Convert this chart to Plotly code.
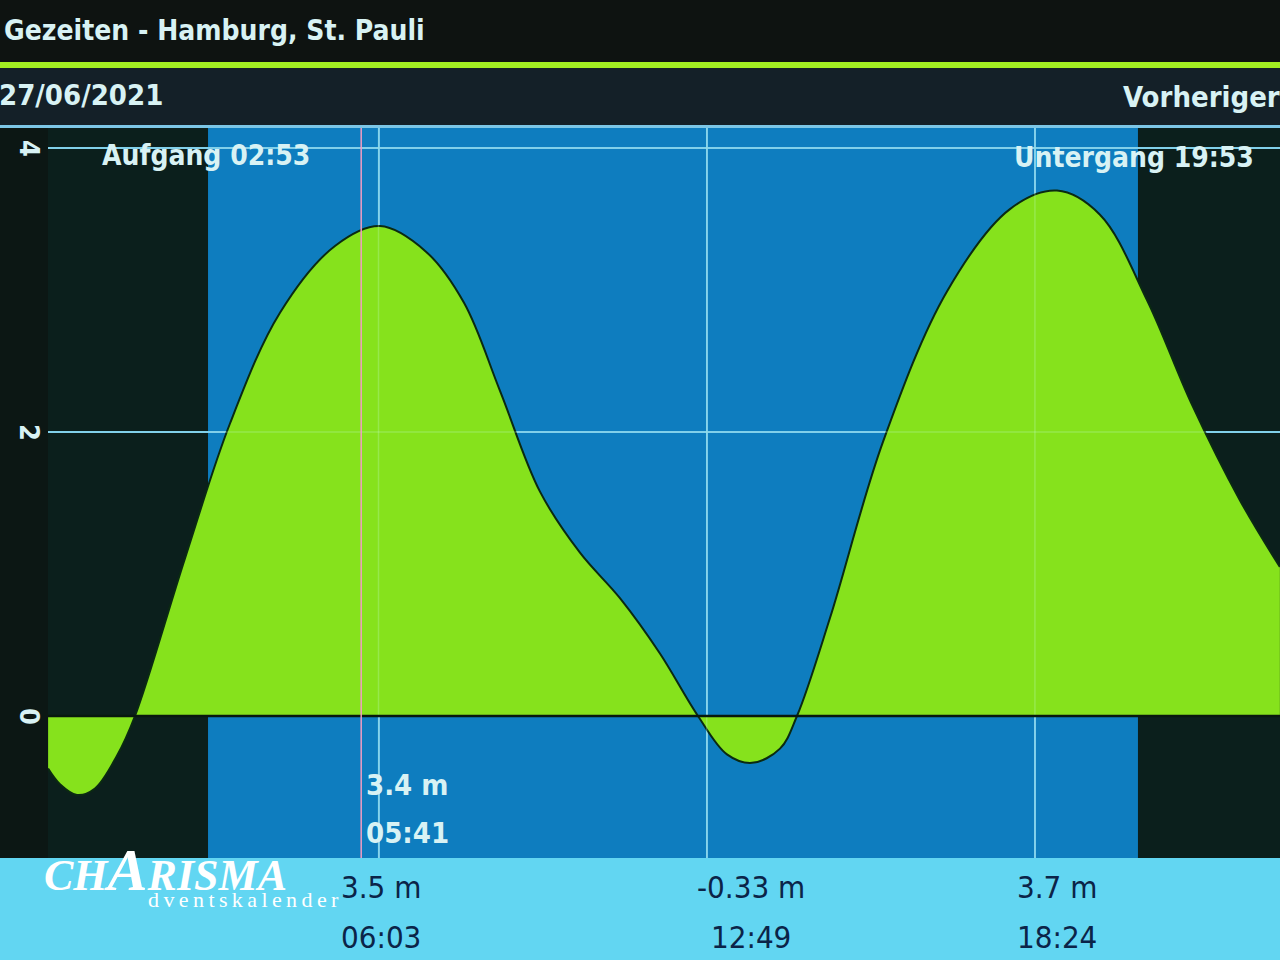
import plotly.graph_objects as go

# ---- data: hours after midnight, water level in m ----
hours = [-0.04, 0.177, 0.488, 0.817, 1.219, 1.548, 2.462, 3.285, 4.199, 5.204, 6.027,
         6.868, 7.563, 8.221, 8.952, 9.683, 10.414, 11.145, 11.840, 12.370, 12.827,
         13.339, 13.650, 14.253, 15.222, 16.392, 17.543, 18.403, 19.189, 20.048,
         20.862, 21.747, 22.478]
levels = [-0.37, -0.48, -0.556, -0.51, -0.28, 0.00, 1.11, 2.06, 2.84, 3.31, 3.45,
          3.27, 2.91, 2.29, 1.58, 1.15, 0.83, 0.44, 0.00, -0.27, -0.33,
          -0.23, 0.00, 0.69, 1.93, 2.99, 3.57, 3.70, 3.53, 2.93,
          2.20, 1.52, 1.05]

sunrise_h = 2 + 53 / 60
sunset_h = 19 + 53 / 60
cursor_h = 5 + 41 / 60
cursor_label = ["3.4 m", "05:41"]

tide_hours = [6 + 3 / 60, 12 + 49 / 60, 18 + 24 / 60]
tide_heights = ["3.5 m", "-0.33 m", "3.7 m"]
tide_times = ["06:03", "12:49", "18:24"]

y_ticks = [0, 2, 4]
x_grid = [6, 12, 18]

title = "Gezeiten - Hamburg, St. Pauli"
date_text = "27/06/2021"
prev_text = "Vorheriger"
sunrise_text = "Aufgang 02:53"
sunset_text = "Untergang 19:53"

# ---- geometry helpers (pixel -> paper) ----
W, H = 1280, 960
L, R, T, B = 48, 0, 128, 102
PW, PH = W - L - R, H - T - B


def px(x):
    return (x - L) / PW


def py(y):
    return (H - B - y) / PH


FONT = "DejaVu Sans Condensed, Liberation Sans Narrow, DejaVu Sans, sans-serif"
LIGHT = "#d8f2f4"

fig = go.Figure()

fig.add_trace(go.Scatter(
    x=hours, y=levels, mode="lines",
    line=dict(color="#0b2a12", width=2, shape="spline", smoothing=1.0),
    fill="tozeroy", fillcolor="#86e21c",
    hoverinfo="skip", showlegend=False,
))

shapes = []
# header bars
shapes.append(dict(type="rect", xref="paper", yref="paper", x0=px(0), x1=px(W), y0=py(0), y1=py(62),
                   fillcolor="#0e1311", line_width=0, layer="below"))
shapes.append(dict(type="rect", xref="paper", yref="paper", x0=px(0), x1=px(W), y0=py(62), y1=py(68),
                   fillcolor="#a2ee22", line_width=0, layer="below"))
shapes.append(dict(type="rect", xref="paper", yref="paper", x0=px(0), x1=px(W), y0=py(68), y1=py(125),
                   fillcolor="#142028", line_width=0, layer="below"))
shapes.append(dict(type="rect", xref="paper", yref="paper", x0=px(0), x1=px(W), y0=py(125), y1=py(128),
                   fillcolor="#7cc6e6", line_width=0, layer="below"))
# bottom band
shapes.append(dict(type="rect", xref="paper", yref="paper", x0=px(0), x1=px(W), y0=py(H), y1=py(H - B),
                   fillcolor="#62d6f2", line_width=0, layer="below"))
# daylight
shapes.append(dict(type="rect", xref="x", yref="y domain", x0=sunrise_h, x1=sunset_h, y0=0, y1=1,
                   fillcolor="#0e7dbf", line_width=0, layer="below"))
# faint grid over the fill
for g in x_grid:
    shapes.append(dict(type="line", xref="x", yref="y domain", x0=g, x1=g, y0=0, y1=1,
                       line=dict(color="rgba(200,255,220,0.25)", width=1.5), layer="above"))
for g in [2, 4]:
    shapes.append(dict(type="line", xref="paper", yref="y", x0=0, x1=1, y0=g, y1=g,
                       line=dict(color="rgba(200,255,220,0.25)", width=1.5), layer="above"))
# zero line
shapes.append(dict(type="line", xref="paper", yref="y", x0=0, x1=1, y0=0, y1=0,
                   line=dict(color="#08180e", width=2.5), layer="above"))
# cursor
shapes.append(dict(type="line", xref="x", yref="y domain", x0=cursor_h, x1=cursor_h, y0=0, y1=1,
                   line=dict(color="#f29cc2", width=1.5), layer="above"))

annotations = []


def txt(s, x, y, size, color=LIGHT, xanchor="left", bold=True, family=FONT):
    annotations.append(dict(
        text=("<b>%s</b>" % s) if bold else s, x=px(x), y=py(y), xref="paper", yref="paper",
        xanchor=xanchor, yanchor="middle", showarrow=False,
        font=dict(family=family, size=size, color=color)))


txt(title, 2, 30, 28)
txt(date_text, -3, 95, 29)
txt(prev_text, 1282, 97, 29, xanchor="right")
txt(sunrise_text, 100, 155, 28)
txt(sunset_text, 1256, 157, 28, xanchor="right")
txt(cursor_label[0], 364, 785, 29)
txt(cursor_label[1], 364, 833, 29)

for v in y_ticks:
    annotations.append(dict(text="<b>%d</b>" % v, x=px(30), y=v, xref="paper", yref="y",
                            xanchor="center", yanchor="middle", showarrow=False, textangle=90,
                            font=dict(family=FONT, size=27, color=LIGHT)))

for h, lv, tm in zip(tide_hours, tide_heights, tide_times):
    annotations.append(dict(text=lv, x=h, y=py(887), xref="x", yref="paper", xanchor="center",
                            yanchor="middle", showarrow=False,
                            font=dict(family=FONT, size=31, color="#0b2448")))
    annotations.append(dict(text=tm, x=h, y=py(937), xref="x", yref="paper", xanchor="center",
                            yanchor="middle", showarrow=False,
                            font=dict(family=FONT, size=31, color="#0b2448")))

# watermark
annotations.append(dict(text="CH<span style='font-size:60px'>A</span>RISMA", x=px(42), y=py(870),
                        xref="paper", yref="paper", xanchor="left", yanchor="middle", showarrow=False,
                        font=dict(family="Liberation Serif, DejaVu Serif, serif", size=44, color="white",
                                  style="italic", weight="bold")))
annotations.append(dict(text="\u2009".join("dventskalender"), x=px(146), y=py(899),
                        xref="paper", yref="paper", xanchor="left", yanchor="middle", showarrow=False,
                        font=dict(family="Liberation Serif, DejaVu Serif, serif", size=22, color="white")))

fig.update_layout(
    width=W, height=H, margin=dict(l=L, r=R, t=T, b=B, pad=0),
    paper_bgcolor="#0c1714", plot_bgcolor="#0b1f1c",
    shapes=shapes, annotations=annotations, showlegend=False,
    xaxis=dict(range=[-0.042, 22.48], tickvals=x_grid, showticklabels=False, showgrid=True,
               gridcolor="#72c6ee", gridwidth=1.5, zeroline=False, showline=False, fixedrange=True),
    yaxis=dict(range=[-1.0, 4.141], tickvals=[2, 4], showticklabels=False, showgrid=True,
               gridcolor="#72c6ee", gridwidth=1.5, zeroline=False, showline=False, fixedrange=True),
)

fig.write_html("out.html", config={"displayModeBar": False},
               post_script="document.body.style.margin='0';document.body.style.overflow='hidden';")
